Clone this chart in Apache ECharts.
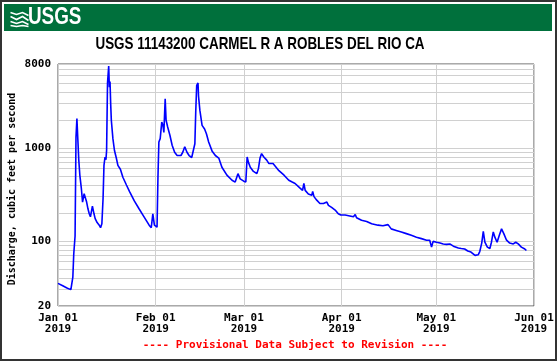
<!DOCTYPE html>
<html><head><meta charset="utf-8">
<script src="https://cdn.jsdelivr.net/npm/echarts@6/dist/echarts.min.js"></script>
<style>html,body{margin:0;padding:0;background:#fff}#c{width:557px;height:361px}</style>
</head><body><div id="c"></div>
<script>
const times = [
'2019-01-01 00:00','2019-01-02 12:00','2019-01-04 00:00','2019-01-05 02:00','2019-01-05 17:00','2019-01-06 00:00','2019-01-06 10:00','2019-01-06 17:00','2019-01-07 00:00','2019-01-07 07:00',
'2019-01-07 14:00','2019-01-07 22:00','2019-01-08 10:00','2019-01-08 19:00','2019-01-09 07:00','2019-01-09 17:00','2019-01-10 02:00','2019-01-10 12:00','2019-01-10 22:00','2019-01-11 07:00',
'2019-01-11 22:00','2019-01-12 10:00','2019-01-12 19:00','2019-01-13 10:00','2019-01-14 02:00','2019-01-14 12:00','2019-01-14 22:00','2019-01-15 07:00','2019-01-15 14:00','2019-01-15 22:00',
'2019-01-16 05:00','2019-01-16 10:00','2019-01-16 17:00','2019-01-17 02:00','2019-01-17 07:00','2019-01-17 12:00','2019-01-17 17:00','2019-01-17 22:00','2019-01-18 10:00','2019-01-18 22:00',
'2019-01-19 12:00','2019-01-20 00:00','2019-01-20 19:00','2019-01-21 14:00','2019-01-22 17:00','2019-01-23 17:00','2019-01-25 05:00','2019-01-26 17:00','2019-01-28 07:00','2019-01-29 22:00',
'2019-01-30 14:00','2019-01-31 02:00','2019-01-31 14:00','2019-02-01 00:00','2019-02-01 10:00','2019-02-01 17:00','2019-02-02 00:00','2019-02-02 10:00','2019-02-02 22:00','2019-02-03 07:00',
'2019-02-03 14:00','2019-02-04 00:00','2019-02-04 07:00','2019-02-04 19:00','2019-02-05 12:00','2019-02-06 05:00','2019-02-07 00:00','2019-02-07 19:00','2019-02-08 10:00','2019-02-09 00:00',
'2019-02-09 14:00','2019-02-10 05:00','2019-02-10 22:00','2019-02-11 14:00','2019-02-12 10:00','2019-02-13 00:00','2019-02-13 10:00','2019-02-13 17:00','2019-02-14 00:00','2019-02-14 10:00',
'2019-02-14 14:00','2019-02-15 00:00','2019-02-15 17:00','2019-02-16 12:00','2019-02-17 02:00','2019-02-17 19:00','2019-02-18 22:00','2019-02-19 22:00','2019-02-21 00:00','2019-02-22 00:00',
'2019-02-23 14:00','2019-02-25 05:00','2019-02-26 05:00','2019-02-27 02:00','2019-02-27 19:00','2019-02-28 22:00','2019-03-01 14:00','2019-03-02 00:00','2019-03-02 10:00','2019-03-03 00:00',
'2019-03-04 00:00','2019-03-05 02:00','2019-03-05 14:00','2019-03-06 02:00','2019-03-06 14:00','2019-03-07 07:00','2019-03-08 05:00','2019-03-08 22:00','2019-03-09 12:00','2019-03-10 05:00',
'2019-03-10 19:00','2019-03-12 02:00','2019-03-13 17:00','2019-03-15 05:00','2019-03-16 07:00','2019-03-17 05:00','2019-03-18 19:00','2019-03-19 14:00','2019-03-20 00:00','2019-03-20 10:00',
'2019-03-21 10:00','2019-03-22 12:00','2019-03-22 19:00','2019-03-23 05:00','2019-03-24 02:00','2019-03-25 02:00','2019-03-26 05:00','2019-03-27 07:00','2019-03-27 19:00','2019-03-28 19:00',
'2019-03-29 22:00','2019-03-30 22:00','2019-03-31 17:00','2019-04-02 02:00','2019-04-03 14:00','2019-04-04 17:00','2019-04-05 07:00','2019-04-05 17:00','2019-04-07 07:00','2019-04-08 22:00',
'2019-04-10 12:00','2019-04-12 12:00','2019-04-14 02:00','2019-04-14 14:00','2019-04-15 17:00','2019-04-16 17:00','2019-04-18 07:00','2019-04-19 22:00','2019-04-21 12:00','2019-04-23 02:00',
'2019-04-24 17:00','2019-04-26 07:00','2019-04-27 22:00','2019-04-28 22:00','2019-04-29 12:00','2019-04-30 00:00','2019-05-01 02:00','2019-05-02 05:00','2019-05-03 05:00','2019-05-04 07:00',
'2019-05-05 07:00','2019-05-06 10:00','2019-05-08 00:00','2019-05-08 22:00','2019-05-10 00:00','2019-05-11 00:00','2019-05-12 00:00','2019-05-13 07:00','2019-05-14 07:00','2019-05-14 19:00',
'2019-05-15 10:00','2019-05-15 22:00','2019-05-16 10:00','2019-05-17 05:00','2019-05-18 00:00','2019-05-18 12:00','2019-05-19 02:00','2019-05-19 14:00','2019-05-20 07:00','2019-05-21 00:00',
'2019-05-21 17:00','2019-05-22 10:00','2019-05-23 07:00','2019-05-24 07:00','2019-05-25 10:00','2019-05-26 05:00','2019-05-27 00:00','2019-05-28 00:00','2019-05-29 02:00','2019-05-29 14:00'
];
const flows = [
35,33,31,30,41,73,113,1310,2070,1240,
750,515,365,262,322,310,262,222,196,182,
237,196,174,158,148,139,153,285,650,800,
750,940,5000,7600,4500,5200,3000,1990,1260,940,
780,650,590,485,400,340,270,222,182,148,
139,196,148,153,141,485,1160,1260,1900,1750,
1470,3390,1990,1680,1370,1070,900,830,860,830,
900,1030,900,830,790,770,1110,2550,4720,5000,
3600,2550,1750,1600,1420,1160,920,830,780,620,
510,450,430,530,465,440,430,800,700,620,
560,530,600,780,870,800,740,680,700,680,
650,570,510,450,430,415,370,350,415,350,
320,310,340,300,275,253,253,262,242,230,
215,196,190,190,186,182,193,178,167,162,
153,148,146,141,150,135,130,125,120,115,
110,106,102,102,86,99,97,95,93,92,
93,88,84,83,82,78,76,70,71,77,
95,127,97,86,83,97,125,110,97,115,
135,120,102,95,93,97,93,86,82,79
];
const xTickDates = ['2019-01-01','2019-02-01','2019-03-01','2019-04-01','2019-05-01','2019-06-01'];
const monthNames = ['Jan','Feb','Mar','Apr','May','Jun','Jul','Aug','Sep','Oct','Nov','Dec'];
const yTickLabels = [20,100,1000,8000];
const yGridValues = [20,30,40,50,60,70,80,90,100,200,300,400,500,600,700,800,900,1000,2000,3000,4000,5000,6000,7000,8000];
const titleText = 'USGS 11143200 CARMEL R A ROBLES DEL RIO CA';
const yAxisTitle = 'Discharge, cubic feet per second';
const footerText = '---- Provisional Data Subject to Revision ----';

const chart = echarts.init(document.getElementById('c'), null, {renderer: 'canvas'});
const toMs = s => echarts.time.parse(s).getTime();
const xTicks = xTickDates.map(toMs);
const mono = '"DejaVu Sans Mono", monospace';
const data = times.map((t, i) => [toMs(t), flows[i]]);

chart.setOption({
  animation: false,
  backgroundColor: '#fff',
  grid: {left: 58, right: 23, top: 64, bottom: 55, show: true, borderColor: '#555', borderWidth: 1, backgroundColor: 'transparent'},
  xAxis: {
    type: 'value',
    min: xTicks[0], max: xTicks[xTicks.length - 1],
    axisLine: {show: false},
    axisTick: {show: false, customValues: xTicks},
    splitLine: {show: true, lineStyle: {color: '#d0d0d0', width: 1}},
    axisLabel: {
      customValues: xTicks,
      margin: 7,
      color: '#000', fontFamily: mono, fontWeight: 'bold', fontSize: 11, lineHeight: 11,
      formatter: function (v) {
        const d = new Date(v);
        const dd = String(d.getDate()).padStart(2, '0');
        return monthNames[d.getMonth()] + ' ' + dd + '\n' + d.getFullYear();
      }
    }
  },
  yAxis: {
    type: 'log', logBase: 10, min: 20, max: 8000,
    axisLine: {show: false},
    axisTick: {show: false},
    splitLine: {show: false},
    axisLabel: {
      margin: 7, color: '#000', fontFamily: mono, fontWeight: 'bold', fontSize: 11,
      formatter: function (v) {
        const r = Math.round(v);
        return yTickLabels.indexOf(r) >= 0 ? String(r) : '';
      }
    }
  },
  series: [{
    type: 'line',
    data: data,
    showSymbol: false,
    symbol: 'none',
    lineStyle: {color: '#0000ff', width: 1.6},
    z: 5,
    markLine: {
      silent: true, symbol: 'none', animation: false,
      label: {show: false},
      lineStyle: {color: '#d0d0d0', width: 1, type: 'solid'},
      data: yGridValues.map(v => ({yAxis: v}))
    }
  }],
  graphic: [
    {type: 'rect', shape: {x: 1, y: 1, width: 555, height: 359}, style: {fill: 'none', stroke: '#333', lineWidth: 2}, silent: true},
    {type: 'rect', shape: {x: 4, y: 4, width: 548, height: 27}, style: {fill: '#00703c'}, silent: true},
    {type: 'group', left: 8, top: 10, children: [
      {type: 'polyline', shape: {points: [[0,1],[6,3],[12,1],[18,4]]}, style: {stroke: '#fff', lineWidth: 1.6, fill: 'none'}},
      {type: 'polyline', shape: {points: [[0,5],[6,8],[12,5],[18,9]]}, style: {stroke: '#fff', lineWidth: 1.6, fill: 'none'}},
      {type: 'polyline', shape: {points: [[0,10],[6,12],[12,10],[18,13]]}, style: {stroke: '#fff', lineWidth: 1.6, fill: 'none'}},
      {type: 'polyline', shape: {points: [[0,14],[6,15],[12,14],[18,15]]}, style: {stroke: '#fff', lineWidth: 1.6, fill: 'none'}}
    ]},
    {type: 'text', x: 28, y: 17.5, scaleX: 0.82, style: {text: 'USGS', fill: '#fff', align: 'left', verticalAlign: 'middle', font: 'bold 23px "Liberation Sans", Arial, sans-serif'}},
    {type: 'text', x: 260, y: 44, scaleX: 0.79, style: {text: titleText, fill: '#000', align: 'center', verticalAlign: 'middle', font: 'bold 17px "Liberation Sans", Arial, sans-serif'}},
    {type: 'text', x: 12.5, y: 189, rotation: Math.PI / 2, style: {text: yAxisTitle, fill: '#000', align: 'center', verticalAlign: 'middle', font: 'bold 10px ' + mono}},
    {type: 'text', x: 295, y: 345, style: {text: footerText, fill: '#ff0000', align: 'center', verticalAlign: 'middle', font: 'bold 11px ' + mono}}
  ]
});
</script>
</body></html>
